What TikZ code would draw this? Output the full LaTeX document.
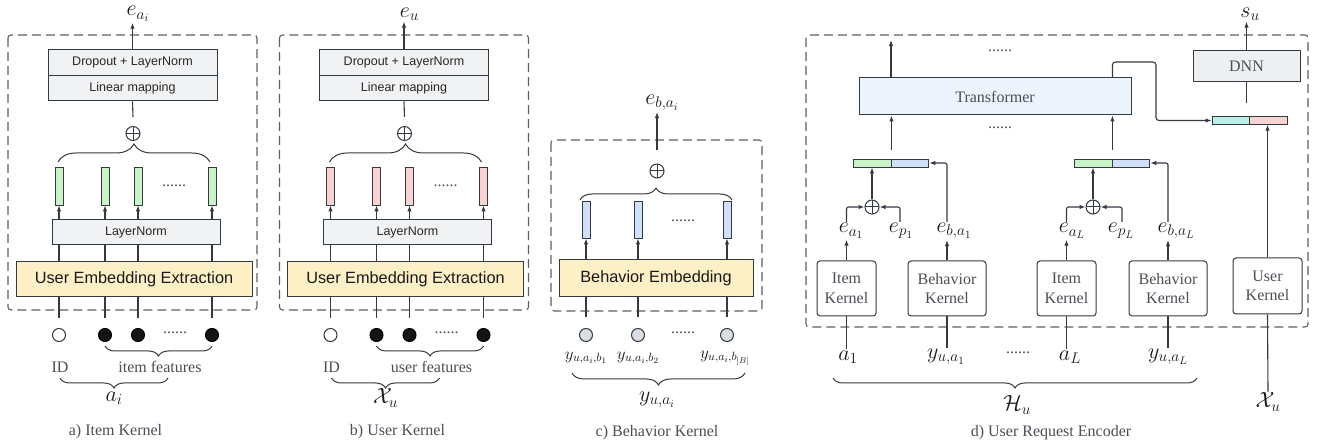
\documentclass[tikz,border=0pt]{standalone}
\usepackage{fix-cm}
\usepackage{fontspec}
\setmainfont{Liberation Serif}
\newfontfamily\boxfont{Liberation Sans}
\usetikzlibrary{arrows.meta,decorations.pathreplacing,calc}

\definecolor{ink}{HTML}{343A42}
\definecolor{dashgray}{HTML}{5C6066}
\definecolor{txtgray}{HTML}{4A4F55}
\definecolor{boxgray}{HTML}{F1F2F4}
\definecolor{dnngray}{HTML}{EEEFF1}
\definecolor{ueefill}{HTML}{FDEFC6}
\definecolor{tffill}{HTML}{EDF4FD}
\definecolor{vgreen}{HTML}{C8F4C8}
\definecolor{vpink}{HTML}{F9D2D2}
\definecolor{vblue}{HTML}{CFE0F8}
\definecolor{vteal}{HTML}{B8F0E7}
\definecolor{dotgray}{HTML}{DADDE2}

\tikzset{
  dashbox/.style={draw=dashgray, line width=1.1pt, dash pattern=on 9pt off 5pt, rounded corners=3pt},
  wire/.style={draw=ink, line width=1.1pt},
  wirearrow/.style={draw=ink, line width=1.1pt, -{Latex[length=6pt,width=4.5pt]}},
  graybox/.style={draw=ink, fill=boxgray, line width=1pt, inner sep=0pt,
    font=\boxfont\fontsize{12.5}{14}\selectfont, text=black!85},
  yellowbox/.style={draw=ink, fill=ueefill, line width=1pt, inner sep=0pt,
    font=\boxfont\fontsize{16.3}{18}\selectfont, text=black!90},
  bar/.style={draw=ink, line width=0.9pt, minimum width=8pt, minimum height=38pt, inner sep=0pt},
  vec/.style={draw=ink, line width=0.9pt, minimum height=8pt, inner sep=0pt},
  oplusnode/.style={circle, draw=ink, line width=1pt, minimum size=14pt, inner sep=0pt,
    path picture={\draw[ink, line width=1pt]
      (path picture bounding box.north) -- (path picture bounding box.south)
      (path picture bounding box.west) -- (path picture bounding box.east);}},
  dotopen/.style={circle, draw=ink, line width=1pt, fill=white, minimum size=13pt, inner sep=0pt},
  dotfull/.style={circle, draw=black, line width=1pt, fill=black!92, minimum size=13pt, inner sep=0pt},
  dotgrey/.style={circle, draw=ink, line width=1pt, fill=dotgray, minimum size=13pt, inner sep=0pt},
  mathlbl/.style={inner sep=1pt, font=\fontsize{22}{24}\selectfont, text=black!90},
  smallmath/.style={inner sep=1pt, font=\fontsize{17}{19}\selectfont, text=black!90},
  lbl/.style={inner sep=1pt, font=\fontsize{16}{19}\selectfont, text=txtgray},
  dotrow/.style={inner sep=0pt, font=\fontsize{16}{19}\selectfont, text=txtgray},
  kbox/.style={draw=ink, line width=1pt, rounded corners=3pt, fill=white, align=center, inner sep=0pt,
    font=\fontsize{16}{19.5}\selectfont, text=txtgray},
  bup/.style={draw=ink, line width=1pt, decorate, decoration={brace, amplitude=#1}},
  bdown/.style={draw=ink, line width=1pt, decorate, decoration={brace, mirror, amplitude=#1}},
}

% Embedding kernel panel: #1 name prefix, #2 horizontal offset, #3 vector colour,
% #4 output label, #5 feature text, #6 input label, #7 caption, #8 caption x
\newcommand\embpanel[8]{%
\begin{scope}[xshift=#2]
  \draw[dashbox] (8,35) rectangle (257,310);
  \node[graybox, minimum width=169pt, minimum height=26pt] (#1drop) at (132.5,63) {Dropout + LayerNorm};
  \node[graybox, minimum width=169pt, minimum height=25pt] (#1lin) at (132.5,88.5) {Linear mapping};
  \node[mathlbl] (#1out) at (138,14) {#4};
  \draw[wirearrow] (#1drop.north) -- (#1drop.north |- #1out.south);
  \node[oplusnode] (#1sum) at (133,133.5) {};
  \draw[wire] (#1lin.south) -- ([yshift=9pt]#1sum.north);
  \draw[bup=18pt] (58,162) -- (210,162);
  \node[bar, fill=#3] (#1v1) at (59,186) {};
  \node[bar, fill=#3] (#1v2) at (105,186) {};
  \node[bar, fill=#3] (#1v3) at (138,186) {};
  \node[bar, fill=#3] (#1v4) at (212,186) {};
  \node[dotrow] (#1vdots) at (174,186) {......};
  \node[graybox, minimum width=168pt, minimum height=25pt] (#1ln) at (136,232.5) {LayerNorm};
  \node[yellowbox, minimum width=236pt, minimum height=35pt] (#1uee) at (134,279.5) {User Embedding Extraction};
  \node[dotopen] (#1c1) at (59,335) {};
  \node[dotfull] (#1c2) at (105,335) {};
  \node[dotfull] (#1c3) at (138,335) {};
  \node[dotfull] (#1c4) at (212,335) {};
  \foreach \i in {1,...,4} {
    \draw[wirearrow] (#1ln.north -| #1v\i) -- (#1v\i.south);
    \draw[wire] (#1ln.south -| #1v\i) -- (#1uee.north -| #1v\i);
    \draw[wire] (#1uee.south -| #1c\i) -- ([yshift=10pt]#1c\i.north);
  }
  \node[dotrow] (#1cdots) at (175,333) {......};
  \draw[bdown=10pt] (105,346) -- (212,346);
  \node[lbl] (#1id) at (60,367) {ID};
  \node[lbl] (#1feat) at (160,367) {#5};
  \draw[bdown=10pt] (60,378) -- (168,378);
  \node[mathlbl] (#1in) at (114,398) {#6};
  \node[lbl] (#1cap) at (#8,432) {#7};
\end{scope}}

\begin{document}
\begin{tikzpicture}[x=1pt, y=-1pt]
\useasboundingbox (0,0) rectangle (1318,446);

% a) item kernel and b) user kernel
\embpanel{a-}{0pt}{vgreen}{$e_{a_i}$}{item features}{$a_i$}{a) Item Kernel}{115.5}
\embpanel{b-}{271.5pt}{vpink}{$e_u$}{user features}{$\mathcal{X}_u$}{b) User Kernel}{126}

% c) behavior kernel
\draw[dashbox] (551,140) rectangle (762,311);
\node[mathlbl] (c-out) at (662,103) {$e_{b,a_i}$};
\node[oplusnode] (c-sum) at (657,171) {};
\draw[wirearrow] ([yshift=13pt]c-sum.north) -- (c-sum.north |- c-out.south);
\draw[bup=12pt] (580,200) -- (732,200);
\node[bar, fill=vblue, minimum height=37pt] (c-v1) at (586,219.5) {};
\node[bar, fill=vblue, minimum height=37pt] (c-v2) at (638,219.5) {};
\node[bar, fill=vblue, minimum height=37pt] (c-v3) at (727,219.5) {};
\node[dotrow] (c-vdots) at (683,221) {......};
\node[yellowbox, minimum width=194pt, minimum height=37pt] (c-be) at (656,278.5) {Behavior Embedding};
\node[dotgrey] (c-c1) at (586,335) {};
\node[dotgrey] (c-c2) at (638,335) {};
\node[dotgrey] (c-c3) at (727,335) {};
\foreach \i in {1,2,3} {
  \draw[wirearrow] (c-be.north -| c-v\i) -- (c-v\i.south);
  \draw[wire] (c-be.south -| c-c\i) -- ([yshift=11pt]c-c\i.north);
}
\node[dotrow] (c-cdots) at (683,333) {......};
\node[smallmath] (c-y1) at (586,358) {$y_{u,a_i,b_1}$};
\node[smallmath] (c-y2) at (638,358) {$y_{u,a_i,b_2}$};
\node[smallmath] (c-y3) at (725,358) {$y_{u,a_i,b_{|B|}}$};
\draw[bdown=12pt] (572,373) -- (745,373);
\node[mathlbl] (c-in) at (657,400) {$y_{u,a_i}$};
\node[lbl] (c-cap) at (657,433) {c) Behavior Kernel};

% d) user request encoder
\draw[dashbox] (806,35) rectangle (1308,327);
\node[draw=ink, fill=tffill, line width=1pt, minimum width=272pt, minimum height=37pt, inner sep=0pt,
  font=\fontsize{16}{19}\selectfont, text=txtgray] (d-tf) at (995,96.5) {Transformer};
\node[dotrow] (d-dots1) at (1000,51) {......};
\node[dotrow] (d-dots2) at (1000,128) {......};
\coordinate (d-top) at (891,40);
\draw[wirearrow] (d-tf.north -| d-top) -- (d-top);

\node[vec, fill=vgreen, minimum width=38pt] (d-g1) at (872,163) {};
\node[vec, fill=vblue, minimum width=37pt, anchor=west] (d-b1) at (d-g1.east) {};
\node[vec, fill=vgreen, minimum width=38pt] (d-gL) at (1093,163) {};
\node[vec, fill=vblue, minimum width=37pt, anchor=west] (d-bL) at (d-gL.east) {};
\draw[wirearrow] ([yshift=9pt]d-g1.north east) -- (d-tf.south -| d-g1.east);
\draw[wirearrow] ([yshift=9pt]d-gL.north east) -- (d-tf.south -| d-gL.east);

\node[oplusnode] (d-s1) at (872,207) {};
\node[oplusnode] (d-sL) at (1093,207) {};
\draw[wirearrow] (d-s1.north) -- (d-g1.south);
\draw[wirearrow] (d-sL.north) -- (d-gL.south);

\node[kbox, minimum width=59pt, minimum height=55pt] (d-ik1) at (846.5,288.5) {Item\\Kernel};
\node[kbox, minimum width=78pt, minimum height=55pt] (d-bk1) at (947,288.5) {Behavior\\Kernel};
\node[kbox, minimum width=59pt, minimum height=55pt] (d-ikL) at (1066.5,288.5) {Item\\Kernel};
\node[kbox, minimum width=78pt, minimum height=55pt] (d-bkL) at (1168,288.5) {Behavior\\Kernel};
\node[kbox, minimum width=69pt, minimum height=56pt] (d-uk) at (1267.5,286) {User\\Kernel};

\node[mathlbl] (d-ea1) at (851,231) {$e_{a_1}$};
\node[mathlbl] (d-ep1) at (901,231) {$e_{p_1}$};
\node[mathlbl] (d-eb1) at (954,231) {$e_{b,a_1}$};
\node[mathlbl] (d-eaL) at (1072,231) {$e_{a_L}$};
\node[mathlbl] (d-epL) at (1121,231) {$e_{p_L}$};
\node[mathlbl] (d-ebL) at (1176,231) {$e_{b,a_L}$};

\draw[wirearrow, rounded corners=2pt] (d-ea1.north -| d-ik1) |- (d-s1.west);
\draw[wirearrow, rounded corners=2pt] (d-ep1.north -| 900,0) |- (d-s1.east);
\draw[wirearrow, rounded corners=2pt] (d-eb1.north -| d-bk1) |- (d-b1.east);
\draw[wirearrow, rounded corners=2pt] (d-eaL.north -| d-ikL) |- (d-sL.west);
\draw[wirearrow, rounded corners=2pt] (d-epL.north -| 1122,0) |- (d-sL.east);
\draw[wirearrow, rounded corners=2pt] (d-ebL.north -| d-bkL) |- (d-bL.east);

\draw[wirearrow] (d-ik1.north) -- (d-ea1.south -| d-ik1);
\draw[wirearrow] (d-bk1.north) -- (d-eb1.south -| d-bk1);
\draw[wirearrow] (d-ikL.north) -- (d-eaL.south -| d-ikL);
\draw[wirearrow] (d-bkL.north) -- (d-ebL.south -| d-bkL);

\node[mathlbl] (d-a1) at (848,357) {$a_1$};
\node[mathlbl] (d-y1) at (946,357) {$y_{u,a_1}$};
\node[dotrow] (d-idots) at (1018,353) {......};
\node[mathlbl] (d-aL) at (1070,357) {$a_L$};
\node[mathlbl] (d-yL) at (1168,357) {$y_{u,a_L}$};
\draw[wire] (d-ik1.south) -- (d-ik1 |- d-a1.north);
\draw[wire] (d-bk1.south) -- (d-bk1 |- d-y1.north);
\draw[wire] (d-ikL.south) -- (d-ikL |- d-aL.north);
\draw[wire] (d-bkL.south) -- (d-bkL |- d-yL.north);
\draw[bdown=10pt] (833,378) -- (1197,378);
\node[mathlbl] (d-hu) at (1017,405) {$\mathcal{H}_u$};
\node[lbl] (d-cap) at (1051,433) {d) User Request Encoder};

\node[vec, fill=vteal, minimum width=37pt, minimum height=7.5pt] (d-fg) at (1230.5,120.5) {};
\node[vec, fill=vpink, minimum width=38pt, minimum height=7.5pt, anchor=west] (d-fp) at (d-fg.east) {};
\draw[wirearrow, rounded corners=3pt] (d-tf.north -| d-gL.east) |- (1156,62) |- (d-fg.west);

\node[draw=ink, fill=dnngray, line width=1pt, minimum width=107pt, minimum height=31pt, inner sep=0pt,
  font=\fontsize{16}{19}\selectfont, text=txtgray] (d-dnn) at (1246.5,66.5) {DNN};
\node[mathlbl] (d-su) at (1250,14) {$s_u$};
\draw[wirearrow] (d-dnn.north) -- (d-dnn.north |- d-su.south);
\draw[wire] (d-dnn.south) -- ++(0,21);

\node[mathlbl] (d-xu) at (1268,402) {$\mathcal{X}_u$};
\draw[wire] (d-uk.south) -- (d-xu.north);
\draw[wirearrow] (d-uk.north) -- (d-fp.south -| d-uk);
\end{tikzpicture}
\end{document}
